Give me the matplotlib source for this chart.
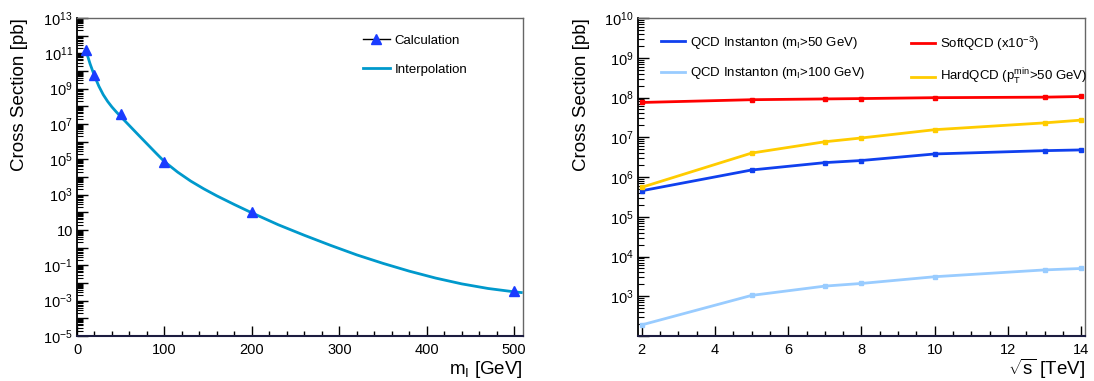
import matplotlib
matplotlib.use("Agg")
import math
import matplotlib.pyplot as plt
from matplotlib.lines import Line2D
from matplotlib.ticker import FixedLocator, MultipleLocator, FuncFormatter

plt.rcParams['font.family'] = ['Liberation Sans', 'DejaVu Sans']
plt.rcParams['mathtext.fontset'] = 'custom'
plt.rcParams['mathtext.rm'] = 'Liberation Sans'
plt.rcParams['mathtext.it'] = 'Liberation Sans:italic'
plt.rcParams['mathtext.bf'] = 'Liberation Sans:bold'

# left panel: instanton mass scan
calc_mass = [10, 20, 50, 100, 200, 500]
calc_xsec = [1.5e11, 5.8e9, 3.7e7, 7.0e4, 1.0e2, 3.5e-3]
interp_mass = [10, 15, 20, 25, 30, 35, 40, 45, 50, 60, 70, 80, 90, 100, 115, 130, 145, 160,
               180, 200, 230, 260, 290, 320, 350, 380, 410, 440, 470, 500, 508]
interp_log_xsec = [11.19, 10.40, 9.72, 9.14, 8.66, 8.28, 7.96, 7.68, 7.42, 6.905, 6.39, 5.88,
                   5.37, 4.87, 4.28, 3.77, 3.33, 2.93, 2.44, 1.97, 1.30, 0.70, 0.13, -0.41,
                   -0.89, -1.33, -1.72, -2.05, -2.31, -2.50, -2.54]

# right panel: cross section vs sqrt(s)
sqrt_s = [2, 5, 7, 8, 10, 13, 14]
inst_m50 = [4.5e5, 1.5e6, 2.3e6, 2.6e6, 3.8e6, 4.6e6, 4.8e6]
inst_m100 = [1.9e2, 1.05e3, 1.8e3, 2.1e3, 3.1e3, 4.6e3, 5.0e3]
soft_qcd = [7.5e7, 8.8e7, 9.2e7, 9.4e7, 9.9e7, 1.02e8, 1.06e8]
hard_qcd = [5.5e5, 4.0e6, 7.7e6, 9.6e6, 1.55e7, 2.3e7, 2.7e7]

fig = plt.figure(figsize=(10.94, 3.81), dpi=100)
W, H = 1094, 381


def frame(ax):
    for side in ["top", "right"]:
        ax.spines[side].set_color("#666666")
        ax.spines[side].set_linewidth(1.0)
    ax.spines["left"].set_color("black")
    ax.spines["bottom"].set_color("#1c1c40")
    ax.spines["left"].set_linewidth(1.3)
    ax.spines["bottom"].set_linewidth(1.5)
    ax.tick_params(which="both", direction="in", top=False, right=False, labelsize=10.5)
    ax.tick_params(axis="x", which="major", length=7, width=1, pad=5)
    ax.tick_params(axis="x", which="minor", length=3.5, width=1)
    ax.tick_params(axis="y", which="major", length=8, width=1, pad=3)
    ax.tick_params(axis="y", which="minor", length=4, width=0.8)


def log_fmt(skip):
    def f(v, pos):
        e = int(round(math.log10(v)))
        if skip(e):
            return ""
        if e == 1:
            return "10"
        return r"$10^{%d}$" % e
    return FuncFormatter(f)


# ---- left panel ----
ax1 = fig.add_axes([77 / W, 1 - 336 / H, 446 / W, 318 / H])
ax1.set_yscale("log")
ax1.plot(interp_mass, [10.0 ** e for e in interp_log_xsec], color="#0099cc", lw=2)
ax1.plot(calc_mass, calc_xsec, ls="none", marker="^", ms=7, color="#1a3cff")
ax1.set_xlim(0, 510)
ax1.set_ylim(1e-5, 1e13)
ax1.xaxis.set_major_locator(MultipleLocator(100))
ax1.xaxis.set_minor_locator(MultipleLocator(20))
ax1.yaxis.set_major_locator(FixedLocator([10.0 ** e for e in range(-5, 14)]))
ax1.yaxis.set_minor_locator(FixedLocator([m * 10.0 ** e for e in range(-5, 13) for m in range(2, 10)]))
ax1.yaxis.set_major_formatter(log_fmt(lambda e: e % 2 == 0))
frame(ax1)

h_calc = Line2D([], [], color="black", lw=1, marker="^", ms=7, mfc="#1a3cff", mec="#1a3cff")
h_interp = Line2D([], [], color="#0099cc", lw=2)
ax1.legend([h_calc, h_interp], ["Calculation", "Interpolation"], loc="upper left",
           bbox_to_anchor=(0.615, 0.985), frameon=False, fontsize=9.5,
           handlelength=2.0, labelspacing=1.25, handletextpad=0.4)

fig.text(20 / W, 1 - 18 / H, "Cross Section [pb]", rotation=90, ha="center", va="top", fontsize=13.5)
fig.text(523 / W, 1 - 369 / H, r"m$_{\mathrm{I}}$ [GeV]", ha="right", va="center", fontsize=13.5)

# ---- right panel ----
ax2 = fig.add_axes([638 / W, 1 - 336 / H, 447 / W, 318 / H])
ax2.set_yscale("log")
ms = 2.5
ax2.plot(sqrt_s, inst_m50, color="#1040ee", lw=2, marker="s", ms=ms)
ax2.plot(sqrt_s, inst_m100, color="#99ccff", lw=2, marker="s", ms=ms)
ax2.plot(sqrt_s, soft_qcd, color="#ff0000", lw=2, marker="s", ms=ms)
ax2.plot(sqrt_s, hard_qcd, color="#ffcc00", lw=2, marker="s", ms=ms)
ax2.set_xlim(1.9, 14.1)
ax2.set_ylim(1e2, 1e10)
ax2.xaxis.set_major_locator(MultipleLocator(2))
ax2.xaxis.set_minor_locator(MultipleLocator(0.5))
ax2.yaxis.set_major_locator(FixedLocator([10.0 ** e for e in range(2, 11)]))
ax2.yaxis.set_minor_locator(FixedLocator([m * 10.0 ** e for e in range(2, 10) for m in range(2, 10)]))
ax2.yaxis.set_major_formatter(log_fmt(lambda e: e == 2))
frame(ax2)

hl = [Line2D([], [], color=c, lw=2) for c in ["#1040ee", "#99ccff", "#ff0000", "#ffcc00"]]
leg_a = ax2.legend(hl[:2], [r"QCD Instanton (m$_{\mathrm{I}}$>50 GeV)", r"QCD Instanton (m$_{\mathrm{I}}$>100 GeV)"],
                   loc="upper left", bbox_to_anchor=(0.025, 0.985), frameon=False, fontsize=9.5,
                   handlelength=1.8, labelspacing=1.1, handletextpad=0.4)
ax2.add_artist(leg_a)
ax2.legend(hl[2:], [r"SoftQCD (x10$^{-3}$)", r"HardQCD (p$_{\mathrm{T}}^{\mathrm{min}}$>50 GeV)"],
           loc="upper left", bbox_to_anchor=(0.585, 0.985), frameon=False, fontsize=9.5,
           handlelength=1.8, labelspacing=1.1, handletextpad=0.4)

fig.text(581 / W, 1 - 18 / H, "Cross Section [pb]", rotation=90, ha="center", va="top", fontsize=13.5)
fig.text(1085 / W, 1 - 369 / H, r"$\sqrt{\mathrm{s}}$ [TeV]", ha="right", va="center", fontsize=13.5)

fig.savefig("out.png", dpi=100)
